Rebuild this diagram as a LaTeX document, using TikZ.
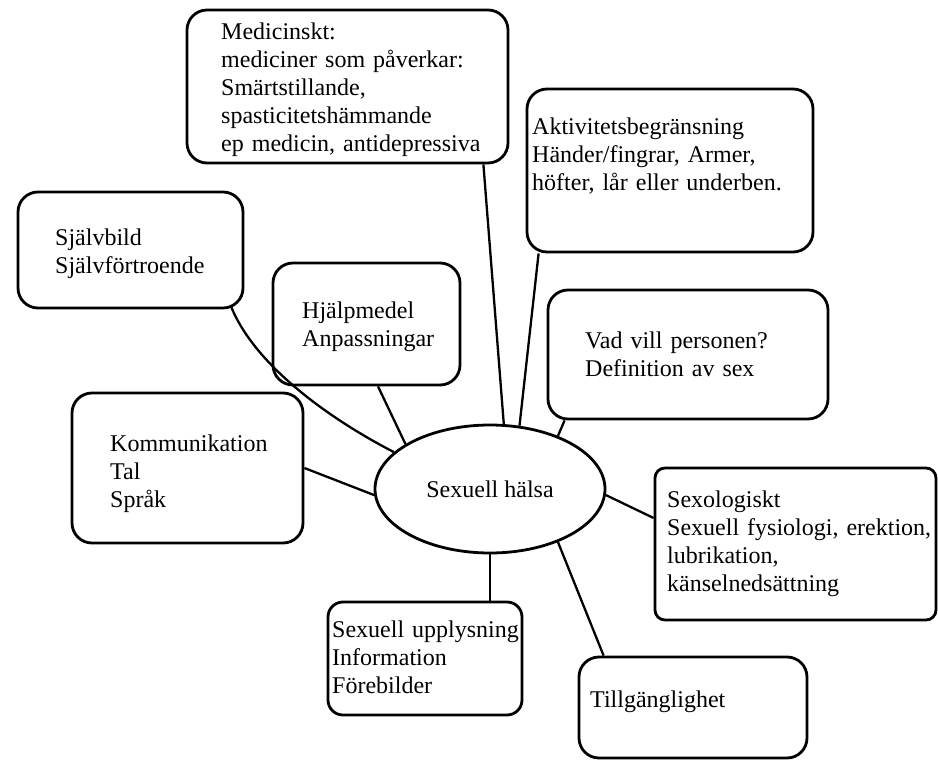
\documentclass[tikz,border=0pt]{standalone}
\usepackage{fontspec}
\setmainfont{Liberation Serif}
\usetikzlibrary{shapes.geometric}

\begin{document}
\begin{tikzpicture}[x=1pt,y=-1pt, % one unit = one pixel, y pointing down
  box/.style={draw, rectangle, rounded corners=20pt, line width=2.8pt},
  txt/.style={inner sep=0pt, anchor=base west, align=left, text width=#1,
    font=\fontsize{24}{28}\selectfont},
  link/.style={line width=2.3pt}]
\useasboundingbox (0,0) rectangle (938,760);

% boxes
\node[box, minimum width=321pt, minimum height=153pt] (med) at (347.5,86.5) {};
\node[box, minimum width=286pt, minimum height=163pt] (akt) at (670,170.5) {};
\node[box, minimum width=225pt, minimum height=116pt] (sjalv) at (130.5,250) {};
\node[box, minimum width=187pt, minimum height=122pt] (hjalp) at (366.5,324) {};
\node[box, minimum width=280pt, minimum height=129pt] (vad) at (688,354.5) {};
\node[box, minimum width=231pt, minimum height=150pt] (komm) at (187.5,468) {};
\node[box, rounded corners=10pt, minimum width=281pt, minimum height=152pt] (sexo) at (795.5,544) {};
\node[box, rounded corners=15pt, minimum width=194pt, minimum height=113pt] (uppl) at (425,658.5) {};
\node[box, minimum width=228pt, minimum height=101pt] (till) at (693,707.5) {};

% centre
\node[draw, ellipse, line width=2.8pt, minimum width=230pt, minimum height=128pt,
  inner sep=0pt, font=\fontsize{24}{28}\selectfont] (halsa) at (490,489) {Sexuell hälsa};

% texts
\node[txt=320pt] (med-t) at (221,40) {Medicinskt:\\mediciner som påverkar:\\Smärtstillande,\\spasticitetshämmande\\ep medicin, antidepressiva};
\node[txt=320pt] (akt-t) at (532,135) {Aktivitetsbegränsning\\Händer/fingrar, Armer,\\höfter, lår eller underben.};
\node[txt=250pt] (sjalv-t) at (55,245) {Självbild\\Självförtroende};
\node[txt=250pt] (hjalp-t) at (302,318) {Hjälpmedel\\Anpassningar};
\node[txt=300pt] (vad-t) at (585,348) {Vad vill personen?\\Definition av sex};
\node[txt=250pt] (komm-t) at (110,451) {Kommunikation\\Tal\\Språk};
\node[txt=320pt] (sexo-t) at (667,507) {Sexologiskt\\Sexuell fysiologi, erektion,\\lubrikation,\\känselnedsättning};
\node[txt=250pt] (uppl-t) at (332,637) {Sexuell upplysning\\Information\\Förebilder};
\node[txt=250pt] (till-t) at (590,707) {Tillgänglighet};

% connectors
\draw[link] ([xshift=-26pt]med.south east) -- (halsa.78);
\draw[link] ([xshift=13pt]akt.south west) -- (halsa.65);
\draw[link] ([xshift=18pt]vad.south west) -- (halsa.38);
\draw[link] ([xshift=-13pt,yshift=2pt]sjalv.south east) .. controls +(25,60) and +(-62,-32) .. (halsa.159);
\draw[link] ([xshift=11.5pt]hjalp.south) -- (halsa.152);
\draw[link] (komm.east) -- (halsa.183);
\draw[link] (halsa.-3) -- ([yshift=26pt]sexo.west);
\draw[link] (halsa.south) -- (halsa.south |- uppl.north);
\draw[link] (halsa.-38) -- ([xshift=26pt]till.north west);
\end{tikzpicture}
\end{document}
